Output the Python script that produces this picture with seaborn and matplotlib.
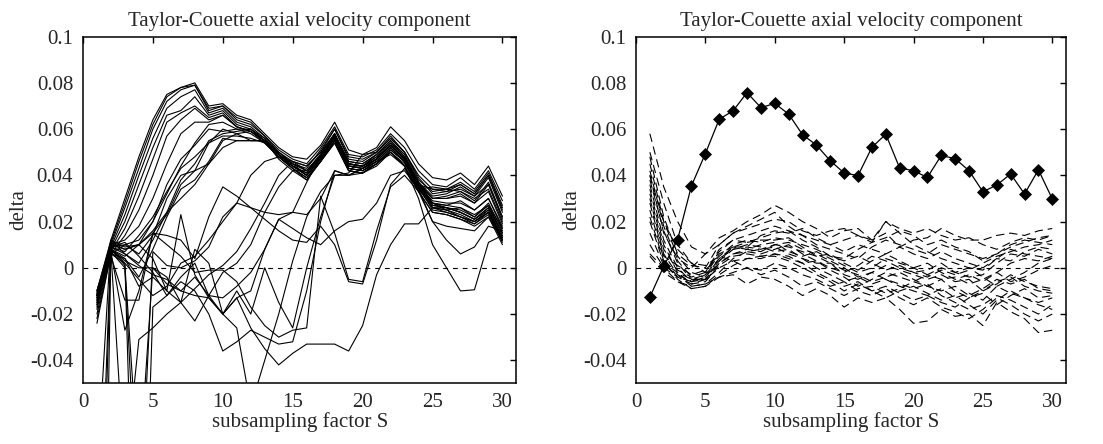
import numpy as np
import pandas as pd
import matplotlib
matplotlib.use('Agg')
import matplotlib.pyplot as plt
import seaborn as sns

S = list(range(1, 31))

# left panel: solid runs
l01 = [-0.010, 0.012, 0.030, 0.048, 0.064, 0.075, 0.078, 0.080, 0.070, 0.071, 0.066, 0.064, 0.058, 0.052, 0.048, 0.047, 0.053, 0.063, 0.051, 0.049, 0.052, 0.061, 0.055, 0.045, 0.039, 0.038, 0.041, 0.036, 0.044, 0.031]
l02 = [-0.012, 0.011, 0.028, 0.046, 0.062, 0.074, 0.078, 0.079, 0.069, 0.070, 0.065, 0.063, 0.057, 0.051, 0.047, 0.045, 0.052, 0.061, 0.049, 0.048, 0.051, 0.058, 0.052, 0.042, 0.036, 0.035, 0.039, 0.034, 0.042, 0.029]
l03 = [-0.014, 0.010, 0.026, 0.043, 0.060, 0.072, 0.077, 0.079, 0.068, 0.070, 0.064, 0.062, 0.057, 0.050, 0.046, 0.044, 0.050, 0.060, 0.047, 0.046, 0.050, 0.057, 0.050, 0.040, 0.034, 0.034, 0.037, 0.033, 0.041, 0.027]
l04 = [-0.016, 0.009, 0.023, 0.040, 0.056, 0.069, 0.074, 0.077, 0.067, 0.069, 0.063, 0.061, 0.056, 0.050, 0.045, 0.042, 0.049, 0.058, 0.045, 0.044, 0.049, 0.055, 0.048, 0.037, 0.028, 0.026, 0.025, 0.022, 0.027, 0.017]
l05 = [-0.018, 0.008, 0.020, 0.036, 0.052, 0.066, 0.068, 0.074, 0.066, 0.068, 0.062, 0.060, 0.056, 0.049, 0.044, 0.041, 0.048, 0.057, 0.044, 0.043, 0.047, 0.053, 0.047, 0.036, 0.027, 0.026, 0.024, 0.021, 0.026, 0.015]
l06 = [-0.020, 0.007, 0.017, 0.031, 0.047, 0.063, 0.067, 0.070, 0.065, 0.067, 0.061, 0.059, 0.055, 0.049, 0.044, 0.040, 0.047, 0.056, 0.043, 0.042, 0.045, 0.051, 0.046, 0.035, 0.026, 0.025, 0.023, 0.020, 0.025, 0.013]
l07 = [-0.022, 0.006, 0.014, 0.025, 0.040, 0.057, 0.064, 0.069, 0.064, 0.066, 0.061, 0.059, 0.054, 0.048, 0.043, 0.039, 0.046, 0.055, 0.042, 0.041, 0.044, 0.050, 0.045, 0.035, 0.025, 0.024, 0.022, 0.019, 0.024, 0.012]
l08 = [-0.012, 0.010, 0.012, 0.018, 0.030, 0.045, 0.058, 0.063, 0.063, 0.066, 0.061, 0.059, 0.055, 0.049, 0.045, 0.043, 0.051, 0.060, 0.048, 0.047, 0.050, 0.056, 0.050, 0.039, 0.032, 0.033, 0.036, 0.032, 0.040, 0.026]
l09 = [-0.010, 0.011, 0.008, 0.010, 0.020, 0.032, 0.044, 0.054, 0.062, 0.063, 0.060, 0.058, 0.054, 0.048, 0.044, 0.041, 0.049, 0.058, 0.046, 0.045, 0.049, 0.054, 0.048, 0.037, 0.031, 0.032, 0.035, 0.031, 0.039, 0.024]
l10 = [-0.015, 0.012, 0.006, 0.002, 0.012, 0.024, 0.038, 0.045, 0.055, 0.058, 0.059, 0.060, 0.055, 0.049, 0.044, 0.040, 0.048, 0.057, 0.045, 0.044, 0.047, 0.053, 0.047, 0.036, 0.028, 0.025, 0.026, 0.022, 0.028, 0.016]
l11 = [-0.013, 0.009, 0.010, 0.006, 0.014, 0.030, 0.040, 0.042, 0.054, 0.060, 0.058, 0.055, 0.055, 0.048, 0.043, 0.038, 0.046, 0.055, 0.043, 0.042, 0.046, 0.052, 0.046, 0.034, 0.028, 0.027, 0.029, 0.025, 0.030, 0.018]
l12 = [-0.017, 0.008, 0.004, -0.004, 0.008, 0.022, 0.034, 0.038, 0.046, 0.056, 0.055, 0.055, 0.055, 0.047, 0.042, 0.038, 0.046, 0.054, 0.042, 0.041, 0.045, 0.050, 0.044, 0.034, 0.035, 0.034, 0.033, 0.030, 0.034, 0.020]
l13 = [-0.024, 0.006, 0.010, 0.012, 0.020, 0.036, 0.047, 0.053, 0.060, 0.059, 0.060, 0.060, 0.055, 0.049, 0.045, 0.042, 0.049, 0.058, 0.045, 0.044, 0.048, 0.054, 0.048, 0.036, 0.030, 0.030, 0.032, 0.028, 0.036, 0.021]
l14 = [-0.011, 0.007, -0.027, -0.010, 0.015, 0.014, 0.012, 0.004, 0.022, 0.035, 0.031, 0.026, 0.024, 0.023, 0.024, 0.037, 0.048, 0.056, 0.044, 0.043, 0.047, 0.053, 0.047, 0.035, 0.026, 0.026, 0.024, 0.021, 0.026, 0.014]
l15 = [-0.013, 0.005, -0.014, -0.014, 0.015, 0.010, 0.005, -0.002, -0.001, -0.001, -0.006, -0.017, -0.025, -0.030, -0.027, -0.026, 0.031, 0.015, -0.005, -0.006, 0.016, 0.035, 0.040, 0.033, 0.024, 0.023, 0.021, 0.019, 0.023, 0.011]
l16 = [-0.012, 0.008, 0.003, 0.000, 0.000, -0.007, -0.010, -0.012, -0.013, -0.020, -0.013, -0.026, -0.035, -0.042, -0.037, -0.033, -0.033, -0.033, -0.036, -0.025, -0.003, 0.010, 0.019, 0.019, 0.026, 0.024, 0.022, 0.020, 0.024, 0.012]
l17 = [-0.015, 0.007, -0.090, -0.031, -0.026, -0.020, -0.015, -0.009, -0.003, 0.001, 0.007, 0.017, 0.028, 0.040, 0.046, 0.044, 0.050, 0.058, 0.046, 0.045, 0.049, 0.055, 0.049, 0.037, 0.030, 0.031, 0.033, 0.029, 0.037, 0.022]
l18 = [-0.010, 0.009, 0.006, 0.001, -0.003, -0.005, -0.010, -0.004, -0.012, -0.020, -0.013, -0.010, 0.008, 0.021, 0.017, 0.013, 0.010, 0.016, 0.020, 0.021, 0.028, 0.040, 0.042, 0.034, 0.020, 0.018, 0.017, 0.016, 0.022, 0.012]
l19 = [-0.012, 0.008, 0.005, 0.010, 0.016, 0.024, 0.030, 0.036, 0.045, 0.052, 0.055, 0.055, 0.055, 0.050, 0.045, 0.040, 0.047, 0.055, 0.043, 0.042, 0.046, 0.049, 0.044, 0.030, 0.010, 0.000, -0.010, -0.0095, 0.011, 0.014]
l20 = [-0.011, 0.009, 0.007, 0.014, 0.022, 0.033, 0.043, 0.048, 0.054, 0.057, 0.057, 0.056, 0.054, 0.048, 0.043, 0.039, 0.046, 0.054, 0.042, 0.041, 0.045, 0.050, 0.044, 0.033, 0.020, 0.012, 0.006, 0.009, 0.018, 0.016]
l21 = [-0.200, 0.010, 0.008, 0.010, 0.015, 0.023, 0.036, 0.042, 0.045, 0.055, 0.058, 0.059, 0.055, 0.049, 0.044, 0.040, 0.047, 0.057, 0.044, 0.044, 0.047, 0.053, 0.047, 0.036, 0.034, 0.033, 0.034, 0.031, 0.036, 0.022]
l22 = [-0.350, 0.008, 0.002, -0.005, -0.012, -0.008, 0.002, 0.005, 0.012, 0.020, 0.028, 0.040, 0.046, 0.048, 0.046, 0.042, 0.048, 0.056, 0.044, 0.043, 0.046, 0.052, 0.046, 0.035, 0.029, 0.028, 0.028, 0.025, 0.030, 0.017]
l23 = [-0.090, 0.012, 0.009, 0.010, 0.004, -0.010, -0.015, 0.008, 0.002, -0.020, -0.010, -0.020, 0.000, -0.015, -0.026, 0.000, 0.022, 0.040, 0.041, 0.049, 0.050, 0.056, 0.050, 0.038, 0.033, 0.034, 0.036, 0.032, 0.040, 0.025]
l24 = [-0.013, 0.007, 0.000, -0.120, 0.007, 0.001, 0.000, 0.003, 0.009, 0.022, 0.028, 0.026, 0.021, 0.016, 0.012, 0.011, 0.018, 0.010, -0.006, -0.007, 0.012, 0.036, 0.043, 0.033, 0.024, 0.023, 0.021, 0.018, 0.022, 0.010]
l25 = [-0.016, 0.006, 0.004, -0.008, -0.004, -0.010, 0.023, -0.003, -0.013, -0.020, -0.026, -0.060, -0.040, -0.020, 0.003, 0.022, 0.033, 0.040, 0.040, 0.041, 0.045, 0.051, 0.046, 0.034, 0.026, 0.025, 0.022, 0.020, 0.024, 0.012]
l26 = [-0.014, 0.006, 0.002, -0.200, -0.017, -0.012, -0.006, -0.010, -0.020, -0.036, -0.032, -0.027, -0.030, -0.033, -0.032, -0.010, 0.020, 0.042, 0.040, 0.043, 0.047, 0.053, 0.047, 0.036, 0.028, 0.027, 0.026, 0.023, 0.027, 0.015]
l27 = [-0.150, 0.009, 0.011, 0.005, -0.002, -0.012, -0.004, 0.002, -0.012, -0.013, -0.008, -0.002, 0.008, 0.021, 0.024, 0.023, 0.030, 0.042, 0.040, 0.043, 0.046, 0.052, 0.046, 0.035, 0.027, 0.026, 0.024, 0.021, 0.025, 0.013]
l28 = [-0.012, 0.008, 0.001, -0.090, 0.000, -0.004, -0.015, -0.023, -0.012, -0.002, 0.002, 0.010, 0.024, 0.035, 0.042, 0.042, 0.049, 0.057, 0.045, 0.044, 0.048, 0.053, 0.047, 0.036, 0.030, 0.030, 0.031, 0.028, 0.033, 0.019]

# right panel: dashed runs
r01 = [0.006, 0.000, -0.006, -0.009, -0.008, -0.004, -0.003, -0.007, -0.004, -0.005, -0.008, -0.012, -0.009, -0.012, -0.017, -0.013, -0.015, -0.013, -0.018, -0.024, -0.023, -0.018, -0.021, -0.020, -0.025, -0.015, -0.019, -0.022, -0.028, -0.027]
r02 = [0.040, 0.015, 0.004, 0.000, 0.006, 0.013, 0.016, 0.020, 0.023, 0.027, 0.024, 0.020, 0.017, 0.013, 0.016, 0.017, 0.012, 0.015, 0.009, 0.012, 0.013, 0.017, 0.014, 0.012, 0.012, 0.014, 0.015, 0.014, 0.016, 0.017]
r03 = [0.058, 0.035, 0.020, 0.009, 0.006, 0.010, 0.015, 0.018, 0.021, 0.024, 0.018, 0.014, 0.010, 0.008, 0.006, 0.004, 0.009, 0.012, 0.010, 0.008, 0.006, 0.010, 0.008, 0.006, 0.004, 0.006, 0.009, 0.011, 0.013, 0.014]
r04 = [0.050, 0.028, 0.010, 0.002, -0.002, 0.008, 0.012, 0.011, 0.013, 0.015, 0.016, 0.012, 0.009, 0.005, 0.004, 0.008, 0.011, 0.020, 0.015, 0.010, 0.007, 0.004, 0.002, 0.000, -0.001, 0.004, 0.008, 0.006, 0.005, 0.004]
r05 = [0.045, 0.020, 0.005, -0.002, -0.004, 0.004, 0.008, 0.009, 0.008, 0.010, 0.009, 0.007, 0.005, 0.002, -0.003, -0.005, -0.002, 0.001, -0.001, -0.003, -0.005, -0.003, -0.006, -0.005, -0.010, -0.006, -0.004, -0.008, -0.010, -0.011]
r06 = [0.042, 0.018, 0.003, -0.004, -0.006, 0.002, 0.006, 0.007, 0.006, 0.008, 0.010, 0.006, 0.003, 0.000, -0.002, 0.001, 0.005, 0.003, 0.000, -0.002, -0.001, 0.002, -0.002, -0.004, -0.003, 0.002, 0.006, 0.005, 0.008, 0.006]
r07 = [0.038, 0.016, 0.002, -0.005, -0.005, 0.003, 0.008, 0.010, 0.009, 0.007, 0.008, 0.004, 0.000, -0.003, -0.006, -0.004, -0.007, -0.005, -0.008, -0.010, -0.012, -0.009, -0.013, -0.011, -0.014, -0.008, -0.011, -0.013, -0.016, -0.018]
r08 = [0.036, 0.012, 0.000, -0.006, -0.003, 0.006, 0.009, 0.008, 0.010, 0.011, 0.007, 0.005, 0.007, 0.004, 0.001, -0.002, 0.000, 0.004, 0.002, 0.000, -0.003, -0.005, -0.004, -0.007, -0.005, -0.002, 0.002, 0.004, 0.003, 0.005]
r09 = [0.034, 0.010, -0.002, -0.007, -0.006, 0.001, 0.005, 0.006, 0.005, 0.006, 0.005, 0.002, -0.002, -0.005, -0.008, -0.006, -0.010, -0.008, -0.011, -0.014, -0.012, -0.015, -0.017, -0.013, -0.011, -0.016, -0.012, -0.009, -0.013, -0.012]
r10 = [0.032, 0.008, -0.001, -0.004, -0.002, 0.007, 0.012, 0.014, 0.016, 0.018, 0.016, 0.014, 0.012, 0.010, 0.007, 0.010, 0.008, 0.006, 0.009, 0.006, 0.004, 0.007, 0.004, 0.002, 0.000, 0.004, 0.003, 0.007, 0.009, 0.008]
r11 = [0.030, 0.006, -0.003, -0.008, -0.007, -0.002, 0.004, 0.007, 0.008, 0.009, 0.006, 0.004, 0.002, 0.002, -0.001, -0.003, -0.006, -0.004, -0.002, -0.005, -0.008, -0.010, -0.008, -0.012, -0.009, -0.005, -0.007, -0.005, -0.009, -0.010]
r12 = [0.028, 0.005, 0.001, -0.003, -0.001, 0.005, 0.010, 0.012, 0.011, 0.013, 0.012, 0.010, 0.008, 0.005, 0.003, 0.005, 0.002, -0.001, 0.001, -0.002, -0.004, -0.001, -0.003, -0.001, 0.002, 0.005, 0.007, 0.009, 0.010, 0.012]
r13 = [0.025, 0.004, -0.004, -0.006, -0.004, 0.003, 0.009, 0.011, 0.012, 0.012, 0.013, 0.009, 0.005, 0.006, 0.002, -0.001, 0.003, 0.006, 0.003, 0.000, 0.002, -0.002, -0.005, -0.003, -0.006, -0.002, -0.006, -0.004, -0.001, 0.001]
r14 = [0.022, 0.003, -0.005, -0.009, -0.008, -0.003, 0.001, 0.004, 0.005, 0.005, 0.003, 0.000, -0.003, -0.006, -0.010, -0.007, -0.010, -0.013, -0.010, -0.008, -0.011, -0.014, -0.012, -0.016, -0.020, -0.014, -0.010, -0.013, -0.015, -0.013]
r15 = [0.020, 0.002, -0.002, -0.005, -0.003, 0.004, 0.009, 0.009, 0.014, 0.016, 0.015, 0.017, 0.013, 0.010, 0.012, 0.014, 0.011, 0.013, 0.016, 0.014, 0.010, 0.012, 0.009, 0.007, 0.003, 0.006, 0.010, 0.012, 0.011, 0.010]
r16 = [0.015, 0.001, -0.003, -0.006, -0.005, 0.002, 0.006, 0.008, 0.007, 0.010, 0.011, 0.008, 0.006, 0.003, 0.000, -0.004, -0.002, -0.005, -0.007, -0.009, -0.007, -0.012, -0.015, -0.018, -0.016, -0.012, -0.014, -0.017, -0.020, -0.016]
r17 = [0.010, 0.000, -0.004, -0.007, -0.005, 0.000, 0.003, 0.004, 0.004, 0.006, 0.004, 0.002, 0.003, -0.001, -0.004, -0.008, -0.005, -0.002, -0.004, -0.006, -0.003, 0.000, -0.002, 0.000, -0.004, -0.008, -0.005, -0.002, 0.002, 0.004]
r18 = [0.005, -0.002, -0.006, -0.008, -0.007, -0.004, -0.002, 0.000, -0.001, 0.002, 0.000, -0.003, -0.005, -0.008, -0.006, -0.010, -0.012, -0.009, -0.013, -0.016, -0.013, -0.017, -0.019, -0.022, -0.018, -0.013, -0.016, -0.020, -0.023, -0.020]
r19 = [0.048, 0.022, 0.006, 0.001, 0.000, 0.010, 0.015, 0.017, 0.019, 0.021, 0.020, 0.016, 0.014, 0.016, 0.017, 0.014, 0.012, 0.020, 0.017, 0.015, 0.017, 0.014, 0.012, 0.013, 0.010, 0.008, 0.011, 0.013, 0.012, 0.014]
r20 = [0.040, 0.020, 0.008, 0.002, 0.001, 0.005, 0.003, 0.000, -0.003, -0.001, -0.004, -0.008, -0.006, -0.009, -0.012, -0.009, -0.008, -0.011, -0.009, -0.006, -0.008, -0.005, -0.010, -0.013, -0.010, -0.007, -0.003, -0.006, -0.008, -0.009]

# right panel: diamond curve
diamond = [-0.0127, 0.0007, 0.0122, 0.0355, 0.0494, 0.0643, 0.0679, 0.0758, 0.0693, 0.0711,
           0.0665, 0.0576, 0.0531, 0.0463, 0.0410, 0.0399, 0.0521, 0.0578, 0.0432, 0.0420,
           0.0391, 0.0486, 0.0472, 0.0420, 0.0329, 0.0358, 0.0406, 0.0319, 0.0424, 0.0298]

xtick_vals = [0, 5, 10, 15, 20, 25, 30]
xtick_labels = ['0', '5', '10', '15', '20', '25', '30']
ytick_vals = [-0.04, -0.02, 0, 0.02, 0.04, 0.06, 0.08, 0.1]
ytick_labels = ['-0.04', '-0.02', '0', '0.02', '0.04', '0.06', '0.08', '0.1']
title = 'Taylor-Couette axial velocity component'

left_runs = [l01, l02, l03, l04, l05, l06, l07, l08, l09, l10, l11, l12, l13, l14,
             l15, l16, l17, l18, l19, l20, l21, l22, l23, l24, l25, l26, l27, l28]
right_runs = [r01, r02, r03, r04, r05, r06, r07, r08, r09, r10,
              r11, r12, r13, r14, r15, r16, r17, r18, r19, r20]


def to_long(runs):
    frames = []
    for i, vals in enumerate(runs):
        frames.append(pd.DataFrame({'S': S, 'delta': vals, 'run': i}))
    return pd.concat(frames, ignore_index=True)


sns.set_style('white')
plt.rcParams['font.family'] = ['Liberation Serif', 'DejaVu Serif']
plt.rcParams['lines.scale_dashes'] = False

fig = plt.figure(figsize=(11.03, 4.44), dpi=100)
ax1 = fig.add_axes([0.0752, 0.1365, 0.3930, 0.7810])
ax2 = fig.add_axes([0.5766, 0.1365, 0.3900, 0.7810])

sns.lineplot(data=to_long(left_runs), x='S', y='delta', units='run', estimator=None,
             color='black', lw=0.8, sort=False, legend=False, ax=ax1)

sns.lineplot(data=to_long(right_runs), x='S', y='delta', units='run', estimator=None,
             color='black', lw=0.8, sort=False, legend=False, ax=ax2,
             linestyle=(0, (6, 3.5)))
sns.lineplot(x=S, y=diamond, color='black', lw=0.9, marker='D', markersize=5.8,
             mec='black', mew=0.5, ax=ax2)

for ax in (ax1, ax2):
    ax.axhline(0, color='black', lw=0.8, linestyle=(0, (3.5, 3.5)))
    ax.set_xlim(0, 31)
    ax.set_ylim(-0.05, 0.1)
    ax.set_xticks(xtick_vals, xtick_labels)
    ax.set_yticks(ytick_vals, ytick_labels)
    ax.tick_params(direction='in', top=True, right=True, length=4.5, width=1,
                   labelsize=15, pad=7, color='black')
    for sp in ax.spines.values():
        sp.set_linewidth(1.1)
        sp.set_color('black')
    ax.set_title(title, fontsize=15, pad=8)
    ax.set_xlabel('subsampling factor S', fontsize=15, labelpad=0)
    ax.set_ylabel('delta', fontsize=15, labelpad=1)

fig.savefig('out.png', dpi=100)
